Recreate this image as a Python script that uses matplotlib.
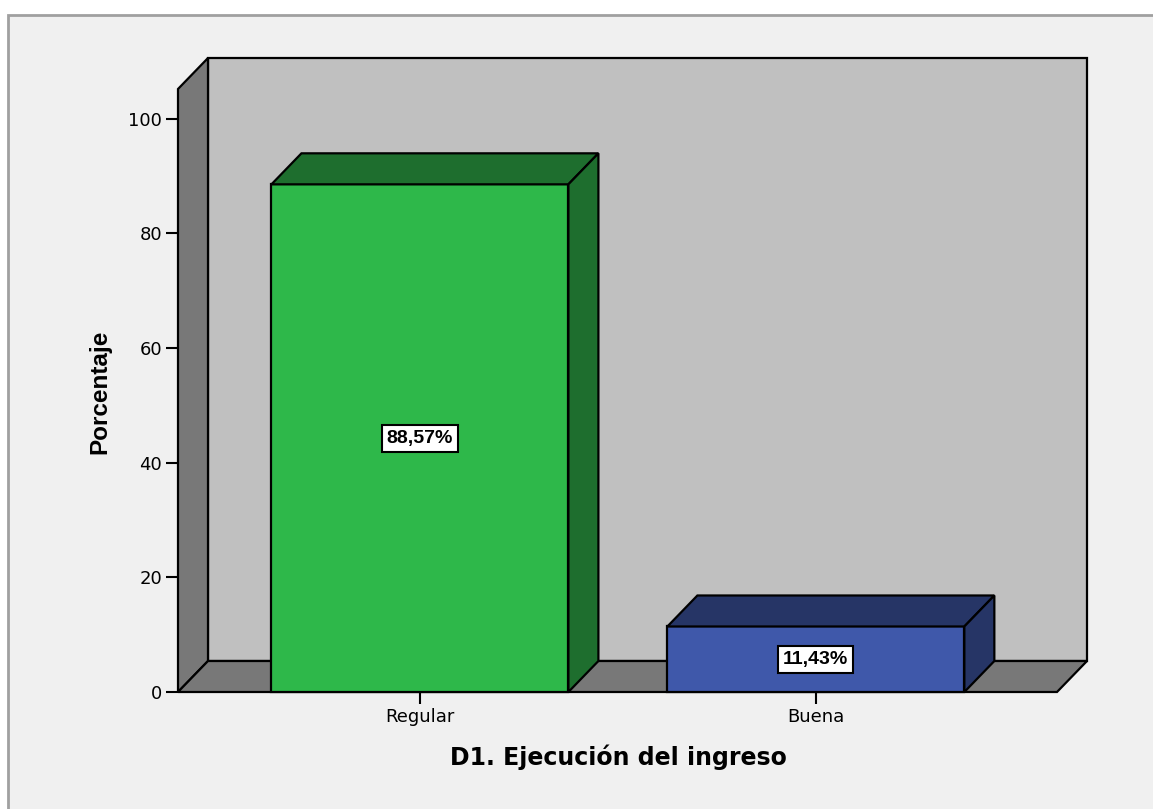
# D1 - ejecución del ingreso, barras 3D estilo SPSS
import matplotlib
matplotlib.use("Agg")
import matplotlib.pyplot as plt
from matplotlib.patches import Polygon, Rectangle

plt.rcParams['font.family'] = ['DejaVu Sans']

# datos
categorias = ["Regular", "Buena"]
porcentajes = [88.57, 11.43]
etiquetas = ["88,57%", "11,43%"]
y_ticks = [0, 20, 40, 60, 80, 100]

# colores (frente, lados)
col_frente = ["#2eb84a", "#3f58aa"]
col_lado = ["#1e6e2e", "#263566"]
col_pared = "#c0c0c0"
col_piso = "#787878"
col_fondo = "#f0f0f0"

W, H = 1153, 809
fig = plt.figure(figsize=(W / 100, H / 100), dpi=100, facecolor="white")

# marco exterior
fig.patches.append(Rectangle((8 / W, -0.05), 1.2, (H - 15) / H + 0.05,
                             transform=fig.transFigure, facecolor=col_fondo,
                             edgecolor="#a0a0a0", linewidth=2, zorder=-1))

ax_l, ax_b, ax_w, ax_h = 178, 117, 879, 603
ax = fig.add_axes([ax_l / W, ax_b / H, ax_w / W, ax_h / H])
ax.patch.set_visible(False)
xmin, xmax = -0.611, 1.609
ymin, ymax = 0, 105.2
ax.set_xlim(xmin, xmax)
ax.set_ylim(ymin, ymax)
for s in ax.spines.values():
    s.set_visible(False)

# profundidad en unidades de datos (30 px a la derecha, 31 px hacia arriba)
dx = 30 * (xmax - xmin) / ax_w
dy = 31 * (ymax - ymin) / ax_h
ancho = 0.75
lw = 1.6

def poly(pts, fc, z):
    ax.add_patch(Polygon(pts, closed=True, facecolor=fc, edgecolor="black",
                         linewidth=lw, joinstyle="miter", clip_on=False, zorder=z))

# paredes
poly([(xmin + dx, dy), (xmax + dx, dy), (xmax + dx, ymax + dy), (xmin + dx, ymax + dy)], col_pared, 1)
poly([(xmin, 0), (xmin, ymax), (xmin + dx, ymax + dy), (xmin + dx, dy)], col_piso, 2)
poly([(xmin, 0), (xmax, 0), (xmax + dx, dy), (xmin + dx, dy)], col_piso, 2)

# barras
for i, v in enumerate(porcentajes):
    x0, x1 = i - ancho / 2, i + ancho / 2
    poly([(x0, 0), (x1, 0), (x1, v), (x0, v)], col_frente[i], 3)
    poly([(x0, v), (x1, v), (x1 + dx, v + dy), (x0 + dx, v + dy)], col_lado[i], 3)
    poly([(x1, 0), (x1, v), (x1 + dx, v + dy), (x1 + dx, dy)], col_lado[i], 3)
    ax.text(i, v / 2, etiquetas[i], ha="center", va="center", fontsize=14,
            fontweight="bold", family="Liberation Sans", zorder=5,
            bbox=dict(boxstyle="square,pad=0.25", facecolor="white",
                      edgecolor="black", linewidth=1.5))

ax.set_yticks(y_ticks)
ax.set_yticklabels([str(t) for t in y_ticks])
ax.set_xticks(range(len(categorias)))
ax.set_xticklabels(categorias)
ax.tick_params(axis="both", direction="out", length=8.5, width=1.5,
               labelsize=13, pad=3, color="black")

ax.set_ylabel("Porcentaje", fontsize=17.5, fontweight="bold",
              family="Liberation Sans")
ax.yaxis.set_label_coords((100 - ax_l) / ax_w, (692 - 392) / ax_h)
ax.yaxis.label.set_verticalalignment("center")
ax.set_xlabel("D1. Ejecución del ingreso", fontsize=17, fontweight="bold")
ax.xaxis.set_label_coords((618 - ax_l) / ax_w, (692 - 757) / ax_h)
ax.xaxis.label.set_verticalalignment("center")

fig.savefig("out.png", dpi=100, facecolor="white")
